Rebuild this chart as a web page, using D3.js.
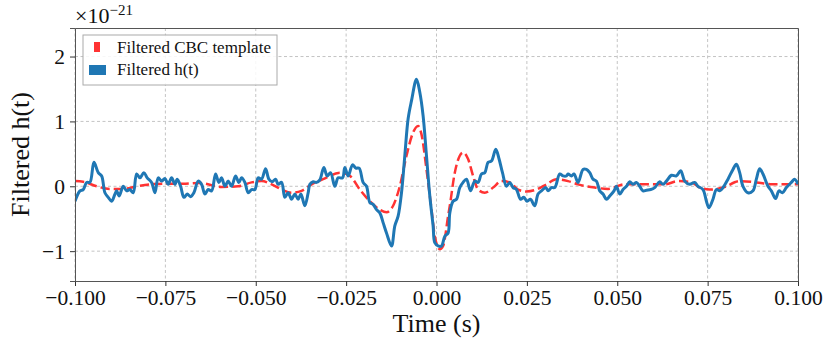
<!DOCTYPE html>
<html lang="en">
<head>
<meta charset="UTF-8">
<title>Filtered h(t)</title>
<script src="https://d3js.org/d3.v7.min.js"></script>
<style>
    body { margin: 0; background: #fff; }
    svg text { font-family: "Liberation Serif", "DejaVu Serif", serif; fill: #111; }
    .grid line { stroke: #c4c4c4; stroke-dasharray: 3,2.5; stroke-width: 1; }
</style>
</head>
<body>
<div id="chart"></div>
<script>
// data, x in seconds, y in units of 1e-21
const hTime = [-0.1, -0.09863, -0.09772, -0.09678, -0.09587, -0.09476, -0.09357, -0.09263, -0.09172, -0.09081,
    -0.08987, -0.08895, -0.08848, -0.08777, -0.08666, -0.08572, -0.08481, -0.08389, -0.08295, -0.08204,
    -0.08094, -0.08002, -0.07881, -0.07789, -0.07698, -0.07604, -0.07513, -0.07422, -0.07328, -0.07236,
    -0.07173, -0.07079, -0.06987, -0.06896, -0.06802, -0.06711, -0.06592, -0.06498, -0.06407, -0.06315,
    -0.06221, -0.06111, -0.0602, -0.05945, -0.05854, -0.05763, -0.05668, -0.05558, -0.05467, -0.05392,
    -0.05301, -0.05209, -0.05115, -0.05024, -0.04933, -0.04839, -0.04728, -0.04637, -0.04546, -0.04452,
    -0.0438, -0.04286, -0.04195, -0.04104, -0.04009, -0.03918, -0.03827, -0.03752, -0.03642, -0.0355,
    -0.03503, -0.03412, -0.03318, -0.03227, -0.03116, -0.03025, -0.02931, -0.02812, -0.02721, -0.02599,
    -0.02536, -0.02444, -0.02323, -0.02231, -0.0214, -0.0203, -0.01936, -0.01844, -0.01753, -0.01659,
    -0.01568, -0.01477, -0.01383, -0.01244, -0.01153, -0.01062, -0.00968, -0.00877, -0.00785, -0.00691,
    -0.00553, -0.00462, -0.00371, -0.00277, -0.00185, -0.00094, -0.00047, 0.00044, 0.00138, 0.0023,
    0.00321, 0.00368, 0.00459, 0.00553, 0.00644, 0.00736, 0.0083, 0.0094, 0.01059, 0.0115,
    0.01244, 0.01336, 0.01427, 0.01521, 0.0164, 0.01731, 0.01825, 0.01936, 0.02027, 0.02118,
    0.02212, 0.02323, 0.02414, 0.02505, 0.02599, 0.02718, 0.02809, 0.02903, 0.03022, 0.03086,
    0.0318, 0.03271, 0.03409, 0.03501, 0.03595, 0.03639, 0.03733, 0.03805, 0.03915, 0.04054,
    0.04148, 0.04239, 0.0433, 0.04424, 0.04516, 0.04607, 0.04701, 0.04792, 0.04911, 0.04977,
    0.05068, 0.0516, 0.05254, 0.05345, 0.05436, 0.0553, 0.05622, 0.05713, 0.05807, 0.05926,
    0.06036, 0.06175, 0.06266, 0.0636, 0.06498, 0.06636, 0.06755, 0.06866, 0.07004, 0.07142,
    0.07234, 0.07372, 0.07466, 0.07538, 0.07648, 0.07742, 0.07834, 0.07925, 0.08063, 0.08201,
    0.08295, 0.08387, 0.08478, 0.08616, 0.08754, 0.08848, 0.0894, 0.09031, 0.09169, 0.09263,
    0.09382, 0.09473, 0.09567, 0.09678, 0.09816, 0.09908, 0.1];
const hValues = [-0.23, -0.07, -0.05, 0.06, 0.06, 0.37, 0.21, 0.16, -0.1, -0.17,
    -0.23, -0.12, -0.07, -0.15, 0.0, -0.07, -0.05, -0.1, 0.19, 0.13,
    0.21, 0.13, 0.06, -0.1, 0.13, 0.08, 0.12, 0.03, 0.13, 0.03,
    0.11, 0.0, -0.17, -0.12, -0.16, -0.1, 0.08, 0.03, -0.12, -0.05,
    -0.07, 0.19, 0.06, 0.13, 0.0, 0.08, 0.0, 0.16, 0.06, 0.13,
    0.06, -0.1, -0.05, -0.05, 0.13, 0.11, 0.27, 0.11, 0.07, 0.11,
    0.03, 0.06, -0.17, -0.1, -0.2, -0.12, -0.2, -0.12, -0.3, -0.1,
    0.03, 0.07, 0.06, 0.1, 0.29, 0.16, 0.21, 0.0, 0.13, 0.13,
    0.29, 0.16, 0.33, 0.28, 0.28, 0.06, 0.0, -0.25, -0.28, -0.36,
    -0.41, -0.56, -0.72, -0.92, -0.61, -0.46, -0.1, 0.47, 1.04, 1.32,
    1.65, 1.45, 1.09, 0.47, -0.15, -0.61, -0.87, -0.92, -0.92, -0.77,
    -0.72, -0.41, -0.23, -0.2, -0.02, 0.06, 0.11, -0.07, 0.08, 0.06,
    0.19, 0.21, 0.37, 0.39, 0.57, 0.42, 0.21, 0.0, 0.06, -0.02,
    -0.05, -0.2, -0.17, -0.23, -0.2, -0.3, -0.12, -0.07, -0.02, -0.07,
    -0.02, -0.02, 0.19, 0.16, 0.16, 0.19, 0.16, 0.19, 0.06, 0.26,
    0.26, 0.21, 0.11, 0.08, -0.07, -0.12, -0.2, -0.15, -0.07, 0.0,
    -0.12, -0.05, 0.0, 0.07, 0.03, 0.06, 0.0, -0.07, -0.06, -0.05,
    -0.02, 0.07, 0.03, 0.08, 0.17, 0.16, 0.24, 0.08, 0.03, 0.06,
    0.0, -0.05, -0.23, -0.33, -0.2, -0.05, -0.07, -0.02, 0.11, 0.26,
    0.34, 0.21, 0.0, -0.1, -0.07, 0.11, 0.27, 0.19, 0.0, -0.07,
    -0.19, -0.07, -0.1, -0.02, 0.06, 0.11, 0.03];

const templateTime = [-0.1, -0.09772, -0.09402, -0.09034, -0.08666, -0.08295, -0.07927, -0.07466, -0.07007, -0.06545,
    -0.05945, -0.05486, -0.05115, -0.04839, -0.04562, -0.04286, -0.04009, -0.03733, -0.03456, -0.03136,
    -0.02674, -0.02397, -0.02121, -0.01844, -0.01568, -0.01383, -0.012, -0.01015, -0.0083, -0.00647,
    -0.00509, -0.00415, -0.00277, -0.00138, -0.00047, 0.00091, 0.00183, 0.00321, 0.00368, 0.00506,
    0.00644, 0.00736, 0.00874, 0.01012, 0.0115, 0.01336, 0.01565, 0.01797, 0.02027, 0.02256,
    0.02489, 0.02765, 0.03042, 0.03318, 0.03639, 0.03915, 0.04377, 0.04745, 0.05207, 0.0576,
    0.06313, 0.06681, 0.07051, 0.07281, 0.07557, 0.07925, 0.08387, 0.08848, 0.09308, 0.09769, 0.1];
const templateValues = [0.08, 0.07, 0.0, -0.04, -0.04, 0.0, 0.03, 0.04, 0.04, 0.05,
    -0.01, 0.0, 0.06, 0.08, 0.03, -0.05, -0.1, -0.07, 0.03, 0.11,
    0.21, 0.16, -0.05, -0.23, -0.36, -0.4, -0.3, 0.0, 0.47, 0.83,
    0.93, 0.8, 0.26, -0.36, -0.77, -0.97, -0.92, -0.46, -0.3, 0.21,
    0.47, 0.52, 0.42, 0.16, -0.05, -0.1, -0.02, 0.08, 0.06, -0.05,
    -0.08, -0.05, 0.03, 0.11, 0.08, 0.03, -0.02, -0.04, 0.03, 0.03,
    0.03, 0.08, 0.06, -0.02, -0.05, -0.02, 0.08, 0.06, 0.03, 0.03, 0.03];

const xTicks = [-0.1, -0.075, -0.05, -0.025, 0, 0.025, 0.05, 0.075, 0.1];
const yTicks = [-1, 0, 1, 2];

const W = 831, H = 347;
const margin = { top: 28, right: 33, bottom: 66, left: 75 };
const width = W - margin.left - margin.right;
const height = H - margin.top - margin.bottom;

const svg = d3.select("#chart").append("svg")
    .attr("width", W)
    .attr("height", H);

const g = svg.append("g")
    .attr("transform", `translate(${margin.left},${margin.top})`);

const x = d3.scaleLinear().domain([-0.1, 0.1]).range([0, width]);
const y = d3.scaleLinear().domain([-1.46, 2.44]).range([height, 0]);

// grid
g.append("g").attr("class", "grid")
    .selectAll("line").data(xTicks).join("line")
    .attr("x1", d => x(d)).attr("x2", d => x(d))
    .attr("y1", 0).attr("y2", height);
g.append("g").attr("class", "grid")
    .selectAll("line").data(yTicks).join("line")
    .attr("x1", 0).attr("x2", width)
    .attr("y1", d => y(d)).attr("y2", d => y(d));

g.append("clipPath").attr("id", "clip")
    .append("rect").attr("width", width).attr("height", height);

const tpl = templateTime.map((t, i) => [t, templateValues[i]]);
const obs = hTime.map((t, i) => [t, hValues[i]]);

const line = d3.line()
    .x(d => x(d[0]))
    .y(d => y(d[1]));

const plot = g.append("g").attr("clip-path", "url(#clip)");

plot.append("path")
    .datum(tpl)
    .attr("fill", "none")
    .attr("stroke", "#ff3333")
    .attr("stroke-width", 2.5)
    .attr("stroke-dasharray", "9.25,4")
    .attr("d", line.curve(d3.curveMonotoneX));

plot.append("path")
    .datum(obs)
    .attr("fill", "none")
    .attr("stroke", "#1f77b4")
    .attr("stroke-width", 3)
    .attr("stroke-linejoin", "round")
    .attr("d", line.curve(d3.curveCatmullRom.alpha(0.5)));

// axes
const xAxis = g.append("g")
    .attr("transform", `translate(0,${height})`)
    .call(d3.axisBottom(x).tickValues(xTicks).tickFormat(d3.format(".3f")).tickSize(5).tickPadding(4));
const yAxis = g.append("g")
    .call(d3.axisLeft(y).tickValues(yTicks).tickFormat(d3.format("d")).tickSize(5).tickPadding(5));
g.append("g")
    .attr("transform", `translate(${width},0)`)
    .call(d3.axisRight(y).tickValues([]).tickSizeOuter(0));
g.append("g")
    .call(d3.axisTop(x).tickValues([]).tickSizeOuter(0));

g.selectAll(".domain").attr("stroke", "#555").attr("stroke-width", 1);
g.selectAll(".tick line").attr("stroke", "#333");
xAxis.selectAll("text").style("font-size", "21.5px").attr("font-family", null);
yAxis.selectAll("text").style("font-size", "21.5px").attr("font-family", null);

// labels
svg.append("text")
    .attr("x", margin.left + width / 2)
    .attr("y", 332)
    .attr("text-anchor", "middle")
    .style("font-size", "26px")
    .text("Time (s)");

svg.append("text")
    .attr("transform", `translate(29,${margin.top + height / 2}) rotate(-90)`)
    .attr("text-anchor", "middle")
    .style("font-size", "26px")
    .text("Filtered h(t)");

const mult = svg.append("text")
    .attr("x", 75)
    .attr("y", 23)
    .style("font-size", "22px");
mult.append("tspan").text("×10");
mult.append("tspan").attr("dy", -8).style("font-size", "15px").text("−21");

// legend
const leg = svg.append("g").attr("transform", "translate(83,35)");
leg.append("rect")
    .attr("width", 194).attr("height", 50)
    .attr("fill", "#fff").attr("fill-opacity", 0.85)
    .attr("stroke", "#aaa").attr("stroke-width", 1);
leg.append("rect")
    .attr("x", 11).attr("y", 7).attr("width", 6).attr("height", 10)
    .attr("fill", "#ff3333");
leg.append("rect")
    .attr("x", 6).attr("y", 30).attr("width", 17).attr("height", 10)
    .attr("fill", "#1f77b4");
leg.append("text").attr("x", 34).attr("y", 18).style("font-size", "17px").text("Filtered CBC template");
leg.append("text").attr("x", 34).attr("y", 40).style("font-size", "17px").text("Filtered h(t)");
</script>
</body>
</html>
